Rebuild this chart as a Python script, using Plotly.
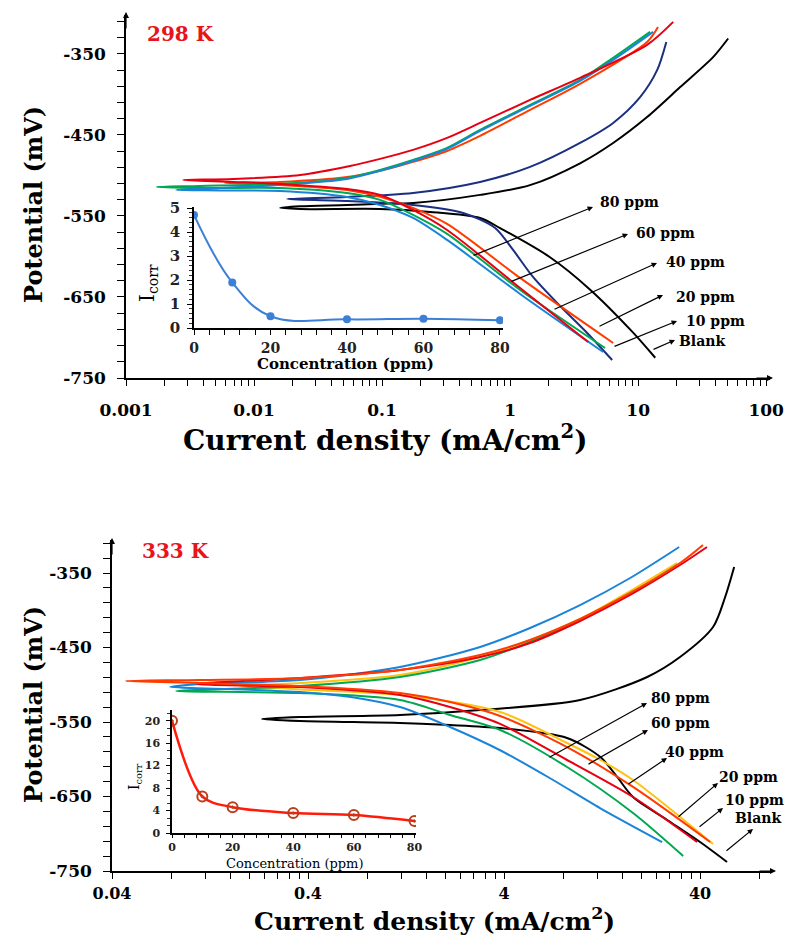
import plotly.graph_objects as go

FONT = "DejaVu Serif"

# ---------------- 298 K polarization curves (current mA/cm2, potential mV) ----------------
blank298_i = [13.6, 9.14, 4.22, 2.05, 0.835, 0.583, 0.237, 0.0965, 0.0229, 0.016, 0.0229, 0.0533, 0.0965, 0.175, 0.583, 1.43, 3.52, 6.38, 11.75, 21.3, 38.5, 50.5]
blank298_E = [-725, -694, -641, -601, -565, -552.5, -545, -541.4, -541.5, -540, -538, -536.5, -535, -534, -524, -512, -485, -460, -428, -391, -354, -331]

p10_298_i = [6.27, 4.00, 2.33, 1.51, 1.055, 0.764, 0.430, 0.1746, 0.0533, 0.0181, 0.0533, 0.1746, 0.583, 1.433, 3.52, 6.38, 10.4, 14.1, 16.6]
p10_298_E = [-727.8, -694.4, -657.4, -625.3, -592.0, -564.8, -546.3, -536.4, -531.5, -529.0, -526.5, -521.6, -508.0, -489.5, -459.9, -435.2, -403.1, -369.8, -335.2]

p20_298_i = [6.38, 1.197, 0.322, 0.1746, 0.0965, 0.0533, 0.01596, 0.00593, 0.01596, 0.0533, 0.0965, 0.1746, 0.322, 0.583, 1.433, 3.52, 11.75, 14.3]
p20_298_E = [-706.8, -626.5, -559.9, -540.1, -526.5, -517.9, -511.7, -509.3, -508.0, -501.9, -494.4, -483.3, -469.8, -451.2, -419.1, -387.0, -335.2, -316.7]

p40_298_i = [4.07, 1.197, 0.322, 0.1746, 0.0965, 0.0533, 0.01596, 0.00685, 0.00279, 0.00685, 0.0229, 0.0562, 0.0965, 0.1746, 0.322, 0.583, 1.433, 3.52, 11.75, 18.8]
p40_298_E = [-705.6, -638.9, -567.3, -542.6, -524.1, -516.7, -510.5, -508.0, -505.6, -504.3, -499.4, -488.3, -479.6, -468.5, -453.7, -435.2, -406.8, -379.6, -338.9, -310.5]

p60_298_i = [5.52, 1.197, 0.322, 0.1746, 0.0965, 0.0533, 0.01596, 0.00378, 0.001746, 0.00378, 0.01596, 0.0533, 0.0965, 0.1746, 0.322, 0.583, 1.433, 3.52, 6.38, 12.4]
p60_298_E = [-713.0, -641.4, -572.2, -548.8, -530.2, -521.6, -515.4, -515.6, -514.2, -513.0, -510.5, -503.1, -493.2, -480.9, -466.0, -443.8, -412.9, -382.1, -354.9, -322.8]

p80_298_i = [5.33, 1.197, 0.322, 0.1746, 0.0965, 0.0533, 0.01596, 0.00542, 0.00246, 0.00542, 0.01596, 0.0533, 0.0965, 0.1746, 0.322, 0.583, 1.433, 3.52, 6.38, 13.1]
p80_298_E = [-717.9, -646.3, -579.6, -552.5, -536.4, -526.5, -519.1, -518.5, -517.9, -515.4, -511.7, -504.3, -494.4, -482.1, -467.3, -445.1, -414.2, -383.3, -357.4, -322.8]

# ---------------- 333 K polarization curves ----------------
blank333_i = [54.9, 40.0, 27.2, 18.2, 15.1, 12.4, 8.38, 3.82, 2.12, 1.178, 0.364, 0.233, 0.364, 1.178, 3.02, 9.77, 21.5, 31.6, 46.6, 53.7, 59.7]
blank333_E = [-737.9, -711.1, -681.5, -650.7, -623.8, -597.0, -571.5, -558.1, -554.0, -551.3, -548.7, -546.0, -543.3, -540.6, -533.9, -520.5, -489.6, -462.8, -422.5, -382.2, -341.9]

p10_333_i = [45.0, 18.2, 8.38, 3.82, 2.12, 1.178, 0.364, 0.1125, 0.0471, 0.1125, 0.364, 1.178, 3.02, 5.43, 9.77, 17.6, 31.6, 41.4]
p10_333_E = [-711.1, -637.2, -583.6, -541.9, -523.2, -511.1, -501.7, -497.7, -495.0, -493.6, -490.9, -480.2, -460.1, -439.9, -411.7, -376.8, -336.6, -312.4]

p20_333_i = [46.6, 18.2, 12.4, 8.38, 3.82, 1.178, 0.364, 0.180, 0.364, 1.178, 3.02, 5.43, 9.77, 17.6, 30.5]
p20_333_E = [-713.8, -627.9, -601.0, -578.2, -536.6, -513.8, -506.3, -501.7, -497.7, -486.9, -462.8, -439.9, -411.7, -374.2, -336.6]

p40_333_i = [38.6, 18.2, 8.38, 3.82, 2.12, 1.178, 0.364, 0.1086, 0.364, 1.178, 3.02, 5.43, 9.77, 17.6, 31.6, 43.4]
p40_333_E = [-711.1, -650.7, -601.0, -552.6, -529.9, -513.8, -503.0, -499.0, -490.9, -480.2, -462.8, -444.0, -414.4, -379.5, -339.3, -315.1]

p60_333_i = [32.8, 18.2, 8.38, 3.82, 2.12, 1.178, 0.364, 0.0849, 0.364, 1.178, 3.02, 5.43, 9.77, 17.6, 30.5]
p60_333_E = [-729.9, -672.1, -610.4, -560.7, -540.6, -520.5, -511.1, -508.4, -501.7, -489.6, -466.8, -442.6, -413.1, -378.2, -339.3]

p80_333_i = [25.6, 12.4, 6.87, 3.82, 2.12, 1.178, 0.661, 0.364, 0.1575, 0.0791, 0.1125, 0.364, 1.178, 3.02, 5.43, 9.77, 17.6, 31.3]
p80_333_E = [-711.1, -665.8, -625.5, -587.9, -556.7, -529.9, -516.4, -509.7, -505.7, -503.0, -499.0, -493.6, -476.2, -449.3, -423.8, -393.0, -356.7, -315.1]

# ---------------- insets: corrosion current vs concentration ----------------
conc_ppm = [0, 10, 20, 40, 60, 80]
icorr_298 = [4.72, 1.90, 0.49, 0.36, 0.39, 0.32]
icorr_333 = [20.0, 6.5, 4.6, 3.55, 3.2, 2.13]

labels = ["80 ppm", "60 ppm", "40 ppm", "20 ppm", "10 ppm", "Blank"]

W, H = 792, 938


def fx(p):
    return p / W


def fy(p):
    return 1 - p / H


fig = go.Figure()

series298 = [
    ("Blank", blank298_i, blank298_E, "#000000"),
    ("10 ppm", p10_298_i, p10_298_E, "#1b2f80"),
    ("20 ppm", p20_298_i, p20_298_E, "#ff3c00"),
    ("60 ppm", p60_298_i, p60_298_E, "#00a84f"),
    ("80 ppm", p80_298_i, p80_298_E, "#1a84d8"),
    ("40 ppm", p40_298_i, p40_298_E, "#e60012"),
]
series333 = [
    ("Blank", blank333_i, blank333_E, "#000000"),
    ("20 ppm", p20_333_i, p20_333_E, "#ffc20e"),
    ("60 ppm", p60_333_i, p60_333_E, "#00a84f"),
    ("80 ppm", p80_333_i, p80_333_E, "#1a84d8"),
    ("40 ppm", p40_333_i, p40_333_E, "#e60012"),
    ("10 ppm", p10_333_i, p10_333_E, "#ff3c00"),
]

for name, xi, ye, col in series298:
    fig.add_trace(go.Scatter(x=xi, y=ye, mode="lines", name=name,
                             line=dict(color=col, width=2, shape="spline", smoothing=0.8),
                             xaxis="x", yaxis="y", showlegend=False))
for name, xi, ye, col in series333:
    fig.add_trace(go.Scatter(x=xi, y=ye, mode="lines", name=name,
                             line=dict(color=col, width=2, shape="spline", smoothing=0.8),
                             xaxis="x2", yaxis="y2", showlegend=False))

fig.add_trace(go.Scatter(x=conc_ppm, y=icorr_298, mode="lines+markers",
                         line=dict(color="#3c7fd6", width=2, shape="spline", smoothing=1.1),
                         marker=dict(size=8, color="#3c7fd6"),
                         xaxis="x3", yaxis="y3", showlegend=False))
fig.add_trace(go.Scatter(x=conc_ppm, y=icorr_333, mode="lines+markers",
                         line=dict(color="#ff1a0a", width=2.5, shape="spline", smoothing=0.9),
                         marker=dict(size=10, symbol="circle-open-dot", color="#b8401c", line=dict(width=2)),
                         xaxis="x4", yaxis="y4", showlegend=False))

# tick definitions
top_tickvals, top_ticktext = [], []
for n in range(-3, 2):
    for k in range(1, 10):
        v = k * 10 ** n
        top_tickvals.append(v)
        top_ticktext.append(("%g" % v) if k == 1 else " ")
top_tickvals.append(100)
top_ticktext.append("100")

bot_tickvals, bot_ticktext = [], []
for n in range(0, 4):
    for k in range(1, 10):
        v = round(0.04 * k * 10 ** n, 6)
        if v > 93:
            break
        bot_tickvals.append(v)
        bot_ticktext.append(("%g" % v) if k == 1 else " ")

y_tickvals = list(range(-750, -300, 20))
y_ticktext = [str(v) if (v + 350) % 100 == 0 else " " for v in y_tickvals]

tickfont_main = dict(family=FONT, size=17, color="black", weight="bold")
common = dict(showline=True, linecolor="black", linewidth=1.5, ticks="outside", automargin=False,
              tickcolor="black", tickwidth=1.2, showgrid=False, zeroline=False, tickangle=0)

fig.update_layout(
    template="none",
    width=W, height=H, margin=dict(l=0, r=0, t=0, b=0, autoexpand=False),
    plot_bgcolor="rgba(0,0,0,0)", paper_bgcolor="white", showlegend=False,
    xaxis=dict(type="log", range=[-3, 2.03], domain=[fx(126), fx(770)], anchor="y",
               tickmode="array", tickvals=top_tickvals, ticktext=top_ticktext, ticklen=6,
               tickfont=tickfont_main, ticklabelstandoff=10, **common),
    yaxis=dict(range=[-750, -302], domain=[fy(378), fy(15)], anchor="x",
               tickmode="array", tickvals=y_tickvals, ticktext=y_ticktext, ticklen=7,
               tickfont=tickfont_main, ticklabelstandoff=8, **common),
    xaxis2=dict(type="log", range=[-1.398, 1.969], domain=[fx(112), fx(772)], anchor="y2",
                tickmode="array", tickvals=bot_tickvals, ticktext=bot_ticktext, ticklen=6,
                tickfont=dict(family=FONT, size=16, color="black", weight="bold"),
                ticklabelstandoff=1, **common),
    yaxis2=dict(range=[-750, -305.7], domain=[fy(871), fy(540)], anchor="x2",
                tickmode="array", tickvals=y_tickvals, ticktext=y_ticktext, ticklen=7,
                tickfont=tickfont_main, ticklabelstandoff=8, **common),
    xaxis3=dict(range=[0, 80.8], domain=[fx(194), fx(503)], anchor="y3",
                tickmode="array", tickvals=list(range(0, 81, 4)),
                ticktext=[str(v) if v % 20 == 0 else " " for v in range(0, 81, 4)],
                ticklen=5, tickfont=dict(family=FONT, size=14, color="#222", weight="bold"),
                ticklabelstandoff=1, **common),
    yaxis3=dict(range=[0, 5.05], domain=[fy(328), fy(207)], anchor="x3",
                tickmode="array", tickvals=[0, 1, 2, 3, 4, 5], ticklen=5,
                minor=dict(dtick=0.2, ticklen=3, tickcolor="#333", ticks="outside"),
                tickfont=dict(family=FONT, size=15, color="#222", weight="bold"),
                ticklabelstandoff=4, **common),
    xaxis4=dict(range=[0, 80.5], domain=[fx(172), fx(416)], anchor="y4",
                tickmode="array", tickvals=list(range(0, 81, 4)),
                ticktext=[str(v) if v % 20 == 0 else " " for v in range(0, 81, 4)],
                ticklen=3, tickfont=dict(family=FONT, size=11, color="#222", weight="bold"),
                ticklabelstandoff=0, **common),
    yaxis4=dict(range=[0, 21.9], domain=[fy(833), fy(710)], anchor="x4",
                tickmode="array", tickvals=[0, 4, 8, 12, 16, 20], ticklen=4,
                minor=dict(dtick=4 / 3, ticklen=3, tickcolor="#333", ticks="outside"),
                tickfont=dict(family=FONT, size=11, color="#222", weight="bold"),
                ticklabelstandoff=4, **common),
)

ann = []


def text(x, y, t, size, color="black", bold=True, angle=0, xanchor="center", family=FONT):
    ann.append(dict(x=fx(x), y=fy(y), xref="paper", yref="paper", text=t, showarrow=False,
                    textangle=angle, xanchor=xanchor, yanchor="middle",
                    font=dict(family=family, size=size, color=color, weight="bold" if bold else "normal")))


def arrow(hx, hy, tx, ty, size=1.0):
    ann.append(dict(x=fx(hx), y=fy(hy), xref="paper", yref="paper", text="", showarrow=True,
                    ax=tx - hx, ay=ty - hy, axref="pixel", ayref="pixel",
                    arrowhead=2, arrowsize=size, arrowwidth=1.2, arrowcolor="black"))


# axis arrows
arrow(126, 12, 126, 30)
arrow(773, 378, 755, 378)
arrow(112, 538, 112, 556)
arrow(776, 871, 758, 871)

# titles
text(180, 34, "298 K", 20, color="#e8141b")
text(175, 551, "333 K", 20, color="#e8141b")
text(33, 205, "Potential (mV)", 24, angle=-90)
text(33, 705, "Potential (mV)", 24, angle=-90)
text(385, 438, "Current density (mA/cm<sup>2</sup>)", 28)
text(434, 919, "Current density (mA/cm<sup>2</sup>)", 25)
text(345, 364, "Concentration (ppm)", 15)
text(295, 863, "Concentration (ppm)", 13, bold=False)
text(148, 283, "I<sub>corr</sub>", 20, angle=-90, bold=False)
text(135, 777, "I<sub>corr</sub>", 14, angle=-90, bold=False)

# concentration labels with arrows (298 K)
top_heads = [(593, 207), (628, 234), (657, 263), (663, 295), (677, 321), (675, 340)]
top_tails = [(472, 256), (510, 282), (553, 310), (598, 327), (613, 347), (652, 350)]
top_text = [(598, 202), (634, 233), (664, 262), (674, 297), (684, 321), (677, 341)]
for lab, h, t, p in zip(labels, top_heads, top_tails, top_text):
    arrow(h[0], h[1], t[0], t[1], size=0.9)
    text(p[0], p[1], lab, 14, xanchor="left")

# concentration labels with arrows (333 K)
bot_heads = [(647, 703), (648, 730), (667, 758), (718, 783), (723, 808), (753, 829)]
bot_tails = [(548, 758), (587, 765), (627, 785), (677, 818), (698, 828), (725, 852)]
bot_text = [(649, 698), (649, 723), (663, 752), (717, 777), (723, 800), (733, 818)]
for lab, h, t, p in zip(labels, bot_heads, bot_tails, bot_text):
    arrow(h[0], h[1], t[0], t[1], size=0.9)
    text(p[0], p[1], lab, 14, xanchor="left")

fig.update_layout(annotations=ann)
fig.write_html("out.html", config={"displayModeBar": False},
               post_script="document.body.style.margin='0';document.body.style.overflow='hidden';")
